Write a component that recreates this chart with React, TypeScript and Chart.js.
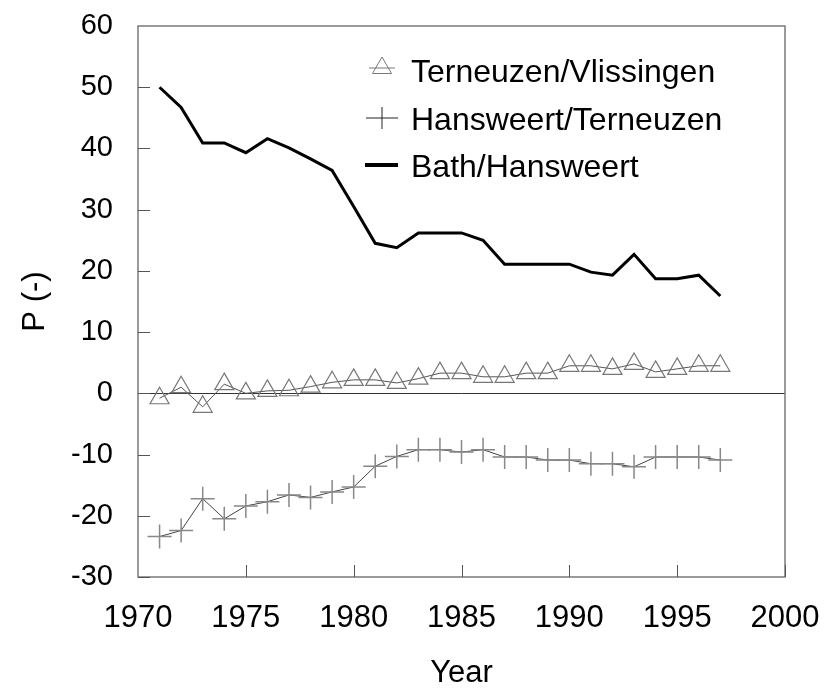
import React, { useEffect, useRef } from "react";
import { Chart, registerables } from "chart.js";

Chart.register(...registerables);

const years = [1971, 1972, 1973, 1974, 1975, 1976, 1977, 1978, 1979, 1980, 1981, 1982, 1983, 1984, 1985, 1986, 1987, 1988, 1989, 1990, 1991, 1992, 1993, 1994, 1995, 1996, 1997];

const terneuzenVlissingen = [-0.8, 1.0, -2.2, 1.5, 0.0, 0.4, 0.5, 1.1, 1.8, 2.2, 2.2, 1.7, 2.4, 3.3, 3.3, 2.7, 2.7, 3.3, 3.3, 4.5, 4.5, 4.0, 4.8, 3.5, 4.0, 4.5, 4.5];

const hansweertTerneuzen = [-23.4, -22.4, -17.2, -20.5, -18.4, -17.7, -16.6, -17.0, -16.1, -15.3, -11.9, -10.3, -9.2, -9.2, -9.6, -9.2, -10.4, -10.4, -10.9, -10.9, -11.5, -11.5, -12.0, -10.4, -10.4, -10.4, -10.9];

const bathHansweert = [50.0, 46.7, 40.9, 40.9, 39.3, 41.6, 40.1, 38.3, 36.4, 30.5, 24.5, 23.8, 26.2, 26.2, 26.2, 25.0, 21.1, 21.1, 21.1, 21.1, 19.8, 19.3, 22.7, 18.7, 18.7, 19.3, 15.9];

const seriesLabels = ["Terneuzen/Vlissingen", "Hansweert/Terneuzen", "Bath/Hansweert"];

const xTickMin = 1970;
const xTickMax = 2000;
const yTickMin = -30;
const yTickMax = 60;

const FONT = "'Liberation Sans', Arial, sans-serif";

const framePlugin = {
  id: "frameAndTicks",
  afterDatasetsDraw(chart: any) {
    const { ctx, chartArea, scales } = chart;
    const { left, right, top, bottom } = chartArea;
    ctx.save();
    ctx.strokeStyle = "#7a7a7a";
    ctx.lineWidth = 1.5;
    ctx.strokeRect(left, top, right - left, bottom - top);
    ctx.strokeStyle = "#555";
    ctx.lineWidth = 1;
    const y = scales.y;
    y.ticks.forEach((t: any) => {
      if (t.value >= yTickMax) return;
      const py = Math.round(y.getPixelForValue(t.value)) + 0.5;
      ctx.beginPath();
      ctx.moveTo(left, py);
      ctx.lineTo(left + 12, py);
      ctx.stroke();
    });
    const x = scales.x;
    x.ticks.forEach((t: any) => {
      if (t.value <= xTickMin) return;
      const px = Math.round(x.getPixelForValue(t.value)) + 0.5;
      ctx.beginPath();
      ctx.moveTo(px, bottom);
      ctx.lineTo(px, bottom - 12);
      ctx.stroke();
    });
    ctx.restore();
  },
  afterDraw(chart: any) {
    const { ctx, chartArea } = chart;
    const mx = chartArea.left + 244;
    const tx = chartArea.left + 273;
    const rows = [chartArea.top + 47, chartArea.top + 95, chartArea.top + 142];
    ctx.save();
    ctx.font = `32px ${FONT}`;
    ctx.fillStyle = "#000";
    ctx.textBaseline = "middle";
    ctx.textAlign = "left";
    // triangle entry
    let yy = rows[0];
    ctx.strokeStyle = "#777";
    ctx.lineWidth = 1;
    ctx.beginPath();
    ctx.moveTo(mx - 13, yy - 5);
    ctx.lineTo(mx + 13, yy - 5);
    ctx.stroke();
    const r = 11;
    ctx.beginPath();
    ctx.moveTo(mx, yy - 5 - r);
    ctx.lineTo(mx + r * 0.866, yy - 5 + r / 2);
    ctx.lineTo(mx - r * 0.866, yy - 5 + r / 2);
    ctx.closePath();
    ctx.stroke();
    ctx.fillText(chart.data.datasets[0].label, tx, yy);
    // cross entry
    yy = rows[1];
    ctx.strokeStyle = "#222";
    ctx.beginPath();
    ctx.moveTo(mx - 16, yy - 3);
    ctx.lineTo(mx + 16, yy - 3);
    ctx.moveTo(mx, yy - 14);
    ctx.lineTo(mx, yy + 8);
    ctx.stroke();
    ctx.fillText(chart.data.datasets[1].label, tx, yy);
    // line entry
    yy = rows[2];
    ctx.strokeStyle = "#000";
    ctx.lineWidth = 4;
    ctx.beginPath();
    ctx.moveTo(mx - 17, yy - 3);
    ctx.lineTo(mx + 16, yy - 3);
    ctx.stroke();
    ctx.fillText(chart.data.datasets[2].label, tx, yy);
    ctx.restore();
  },
};

export default function App() {
  const canvasRef = useRef<HTMLCanvasElement | null>(null);

  useEffect(() => {
    if (!canvasRef.current) return;
    const toPts = (vals: number[]) => years.map((yr, i) => ({ x: yr, y: vals[i] }));
    const chart = new Chart(canvasRef.current, {
      type: "line",
      data: {
        datasets: [
          {
            label: seriesLabels[0],
            data: toPts(terneuzenVlissingen),
            borderColor: "#555",
            borderWidth: 1,
            pointStyle: "triangle",
            pointRadius: 11,
            pointBorderColor: "#777",
            pointBackgroundColor: "rgba(0,0,0,0)",
            pointBorderWidth: 1.2,
            tension: 0,
          },
          {
            label: seriesLabels[1],
            data: toPts(hansweertTerneuzen),
            borderColor: "#444",
            borderWidth: 1,
            pointStyle: "cross",
            pointRadius: 12,
            pointBorderColor: "#888",
            pointBorderWidth: 1.5,
            tension: 0,
          },
          {
            label: seriesLabels[2],
            data: toPts(bathHansweert),
            borderColor: "#000",
            borderWidth: 3,
            pointRadius: 0,
            tension: 0,
          },
        ],
      },
      options: {
        responsive: false,
        animation: false,
        layout: { padding: { top: 26, right: 39, left: 0, bottom: 0 } },
        plugins: { legend: { display: false }, tooltip: { enabled: false } },
        scales: {
          x: {
            type: "linear",
            min: xTickMin,
            max: xTickMax,
            afterFit: (s: any) => {
              s.height = 112;
              s.paddingLeft = 0;
              s.paddingRight = 0;
            },
            ticks: {
              stepSize: 5,
              padding: 23,
              color: "#000",
              font: { family: FONT, size: 31 },
              callback: (v: any) => String(v),
              maxRotation: 0,
            },
            grid: { display: true, drawOnChartArea: false, drawTicks: false },
            border: { display: false },
            title: {
              display: true,
              text: "Year",
              color: "#000",
              font: { family: FONT, size: 31, lineHeight: 1 },
              padding: { top: 0, bottom: 0 },
            },
          },
          y: {
            type: "linear",
            min: yTickMin,
            max: yTickMax,
            afterFit: (s: any) => {
              s.width = 138;
              s.paddingTop = 0;
              s.paddingBottom = 0;
            },
            ticks: {
              stepSize: 10,
              padding: 25,
              color: "#000",
              font: { family: FONT, size: 29 },
            },
            grid: {
              drawTicks: false,
              color: (c: any) => (c.tick && c.tick.value === 0 ? "#333" : "rgba(0,0,0,0)"),
              lineWidth: 1,
            },
            border: { display: false },
            title: {
              display: true,
              text: "P (-)",
              color: "#000",
              font: { family: FONT, size: 31, lineHeight: 1 },
              padding: { top: 20, bottom: 0 },
            },
          },
        },
      },
      plugins: [framePlugin],
    });
    return () => chart.destroy();
  }, []);

  return (
    <div style={{ position: "absolute", left: 0, top: 0, width: 824, height: 689, background: "#fff" }}>
      <canvas ref={canvasRef} width={824} height={689} />
    </div>
  );
}
